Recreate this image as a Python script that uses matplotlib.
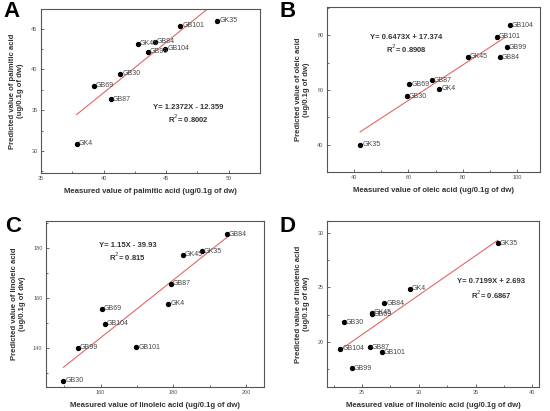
import matplotlib
matplotlib.use("Agg")
import matplotlib.pyplot as plt
import numpy as np
from matplotlib.ticker import MultipleLocator

plt.rcParams['font.family'] = ['Liberation Sans', 'DejaVu Sans']

# Panel A - palmitic acid
names_a = ["GK4", "GB87", "GB69", "GB30", "GK45", "GB99", "GB84", "GB104", "GB101", "GK35"]
meas_a = [37.84, 40.57, 39.2, 41.32, 42.75, 43.52, 44.1, 44.94, 46.14, 49.09]
pred_a = [30.9, 36.33, 38.0, 39.44, 43.16, 42.18, 43.36, 42.5, 45.32, 45.98]

# Panel B - oleic acid
names_b = ["GK35", "GB30", "GB69", "GB87", "GK4", "GK45", "GB101", "GB84", "GB99", "GB104"]
meas_b = [42.2, 59.4, 60.3, 68.6, 71.3, 81.8, 92.5, 93.6, 96.2, 97.4]
pred_b = [39.9, 57.8, 62.1, 63.5, 60.5, 72.1, 79.5, 72.0, 75.7, 83.8]

# Panel C - linoleic acid
names_c = ["GB30", "GB99", "GB104", "GB69", "GB101", "GK4", "GB87", "GK45", "GK35", "GB84"]
meas_c = [149.8, 153.8, 161.2, 160.3, 169.9, 178.7, 179.4, 182.6, 187.8, 194.8]
pred_c = [127.0, 140.1, 149.7, 155.7, 140.3, 157.6, 165.6, 177.2, 178.5, 185.3]

# Panel D - linolenic acid
names_d = ["GB104", "GB99", "GB30", "GB87", "GB101", "GK45", "GB69", "GB84", "GK4", "GK35"]
meas_d = [23.06, 24.09, 23.36, 25.68, 26.73, 25.85, 25.85, 26.94, 29.2, 36.95]
pred_d = [19.4, 17.63, 21.82, 19.54, 19.09, 22.7, 22.55, 23.56, 24.88, 29.03]

panels = [
    dict(letter="A", acid="palmitic", names=names_a, x=meas_a, y=pred_a,
         slope=1.2372, icpt=-12.359, eq="Y= 1.2372X - 12.359", r2="0.8002",
         xlim=(35, 52.5), ylim=(27.3, 47.4), xmaj=5, ymaj=5,
         box=[41, 9, 260, 173], txt=(46.8, 35.3, 34.0), lpos=(3, 1)),
    dict(letter="B", acid="oleic", names=names_b, x=meas_b, y=pred_b,
         slope=0.6473, icpt=17.374, eq="Y= 0.6473X + 17.374", r2="0.8908",
         xlim=(30, 108.5), ylim=(30, 90.4), xmaj=20, ymaj=20,
         box=[327, 7, 540, 172], txt=(59.1, 79.1, 75.1), xend=95.6, lpos=(280, 1)),
    dict(letter="C", acid="linoleic", names=names_c, x=meas_c, y=pred_c,
         slope=1.15, icpt=-39.93, eq="Y= 1.15X - 39.93", r2="0.815",
         xlim=(145, 205), ylim=(124.5, 190.6), xmaj=20, ymaj=20,
         box=[46, 221, 264, 387], txt=(167.5, 180.8, 176.3), lpos=(5, 216)),
    dict(letter="D", acid="linolenic", names=names_d, x=meas_d, y=pred_d,
         slope=0.7199, icpt=2.693, eq="Y= 0.7199X + 2.693", r2="0.6867",
         xlim=(21.9, 40.6), ylim=(15.9, 31.06), xmaj=5, ymaj=5,
         box=[327, 221, 539, 387], txt=(36.4, 25.5, 24.35), lpos=(280, 216)),
]

W, H = 550, 411
fig = plt.figure(figsize=(W / 100, H / 100), dpi=100)
gray = "#555555"

for p in panels:
    l, t, r, b = p["box"]
    ax = fig.add_axes([l / W, 1 - b / H, (r - l) / W, (b - t) / H])
    x = np.array(p["x"])
    y = np.array(p["y"])
    x0 = x.min()
    x1 = p.get("xend", x.max())
    lx = np.array([x0, x1])
    ax.plot(lx, p["slope"] * lx + p["icpt"], color="#e06868", lw=0.8, zorder=1)
    ax.scatter(x, y, s=8, color="black", zorder=3)
    for n, xi, yi in zip(p["names"], x, y):
        ax.annotate(n, (xi, yi), xytext=(1.5, 0), textcoords="offset points",
                    va="center", ha="left", fontsize=5, color="#444444")
    tx, ty1, ty2 = p["txt"]
    ax.text(tx, ty1, p["eq"], ha="center", va="center", fontsize=5.5,
            fontweight="bold", color="#333333")
    ax.text(tx, ty2, "R$^2$= " + p["r2"], ha="center", va="center", fontsize=5.5,
            fontweight="bold", color="#333333")
    ax.set_xlim(p["xlim"])
    ax.set_ylim(p["ylim"])
    ax.xaxis.set_major_locator(MultipleLocator(p["xmaj"]))
    ax.xaxis.set_minor_locator(MultipleLocator(p["xmaj"] / 2))
    ax.yaxis.set_major_locator(MultipleLocator(p["ymaj"]))
    ax.yaxis.set_minor_locator(MultipleLocator(p["ymaj"] / 2))
    ax.tick_params(which="both", direction="in", labelsize=4, colors=gray,
                   width=0.6, pad=2.5)
    ax.tick_params(which="major", length=2.5)
    ax.tick_params(which="minor", length=1.5)
    for s in ax.spines.values():
        s.set_color(gray)
        s.set_linewidth(0.8)
    ax.set_xlabel(f"Measured value of {p['acid']} acid (ug/0.1g of dw)",
                  fontsize=5.6, fontweight="bold", color="#333333", labelpad=5)
    ax.set_ylabel(f"Predicted value of {p['acid']} acid\n(ug/0.1g of dw)",
                  fontsize=5.6, fontweight="bold", color="#333333", labelpad=5)
    lxp, lyp = p["lpos"]
    fig.text(lxp / W, 1 - lyp / H, p["letter"], fontsize=16,
             fontweight="bold", va="top", ha="left")

fig.savefig("out.png", dpi=100)
